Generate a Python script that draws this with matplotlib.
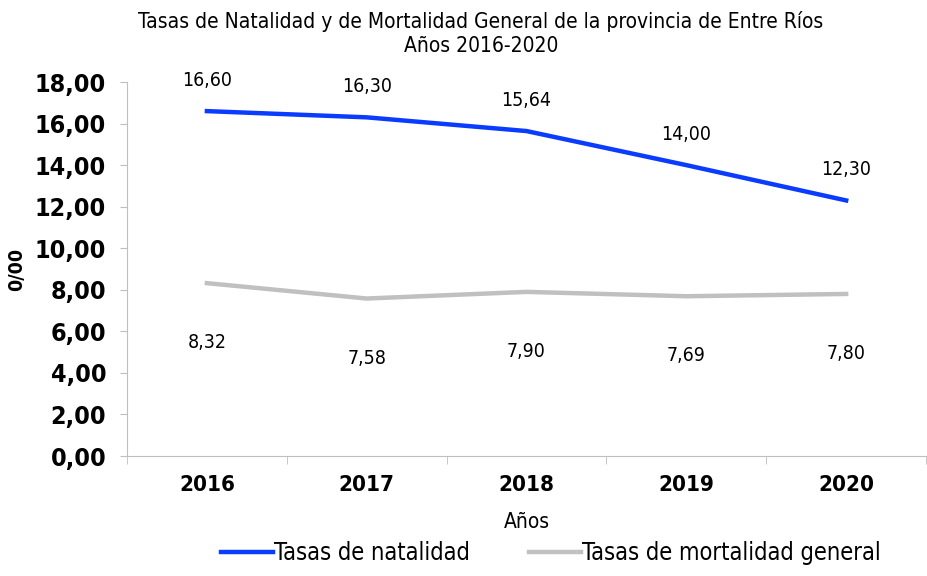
import matplotlib
matplotlib.use("Agg")
import matplotlib.pyplot as plt
from matplotlib.ticker import FuncFormatter

# datos
anios = ["2016", "2017", "2018", "2019", "2020"]
natalidad = [16.60, 16.30, 15.64, 14.00, 12.30]
mortalidad = [8.32, 7.58, 7.90, 7.69, 7.80]

plt.rcParams["font.family"] = ["DejaVu Sans"]
plt.rcParams["font.stretch"] = "condensed"

AZUL = "#0A3CFF"
GRIS = "#C0C0C0"


def coma(v, pos=None):
    return f"{v:.2f}".replace(".", ",")


fig = plt.figure(figsize=(9.27, 5.76), dpi=100)
ax = fig.add_axes([0.137, 0.2083, 0.862, 0.6493])

x = list(range(len(anios)))
ax.plot(x, natalidad, color=AZUL, linewidth=3.2, label="Tasas de natalidad")
ax.plot(x, mortalidad, color=GRIS, linewidth=3.2, label="Tasas de mortalidad general")

for xi, v in zip(x, natalidad):
    ax.annotate(coma(v), (xi, v), xytext=(0, 22), textcoords="offset points",
                ha="center", va="center", fontsize=14)
for xi, v in zip(x, mortalidad):
    ax.annotate(coma(v), (xi, v), xytext=(0, -43), textcoords="offset points",
                ha="center", va="center", fontsize=14)

ax.set_xlim(-0.5, 4.5)
ax.set_ylim(0, 18)
ax.set_yticks([0, 2, 4, 6, 8, 10, 12, 14, 16, 18])
ax.yaxis.set_major_formatter(FuncFormatter(coma))
ax.set_xticks(x)
ax.set_xticklabels(anios)
ax.set_xticks([-0.5, 0.5, 1.5, 2.5, 3.5, 4.5], minor=True)
ax.tick_params(axis="x", which="major", length=0, pad=14, labelsize=16)
ax.tick_params(axis="x", which="minor", length=6, color="#BFBFBF")
ax.tick_params(axis="y", length=5, color="#BFBFBF", labelsize=18, pad=10)
for lab in ax.get_xticklabels() + ax.get_yticklabels():
    lab.set_fontweight("bold")

for s in ["top", "right"]:
    ax.spines[s].set_visible(False)
for s in ["left", "bottom"]:
    ax.spines[s].set_color("#BFBFBF")

ax.set_xlabel("Años", fontsize=15, labelpad=12)
ax.set_ylabel("0/00", fontsize=14, fontweight="bold", labelpad=6)

fig.text(0.519, 0.962, "Tasas de Natalidad y de Mortalidad General de la provincia de Entre Ríos",
         ha="center", va="center", fontsize=15)
fig.text(0.519, 0.92, "Años 2016-2020", ha="center", va="center", fontsize=15)

fig.legend(loc="lower center", ncol=2, frameon=False, fontsize=17,
           bbox_to_anchor=(0.594, -0.018), handlelength=2.2, columnspacing=2.5,
           handletextpad=0.05)

fig.savefig("out.png", dpi=100)
